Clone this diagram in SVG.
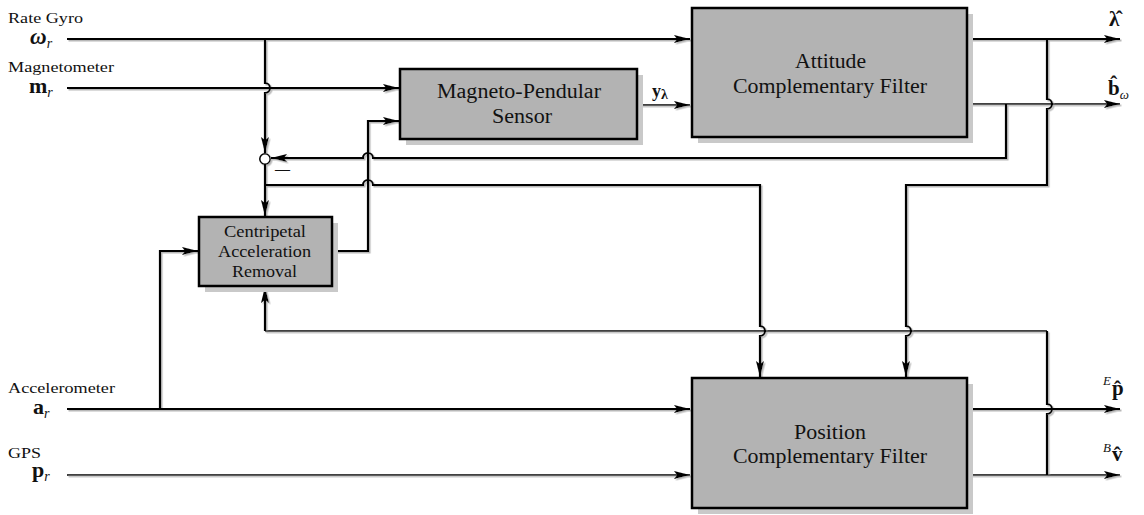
<svg xmlns="http://www.w3.org/2000/svg" width="1144" height="515" viewBox="0 0 1144 515">
  <style>
    .lbl { font-family: "Liberation Serif", "Times New Roman", serif; fill: #111; }
    .blk { fill: #b3b3b3; stroke: #000; stroke-width: 2.5; }
    .shd { fill: #c9c9c9; stroke: none; }
    .w { fill: none; stroke: #000; stroke-width: 2.2; }
    .t { fill: none; stroke: #000; stroke-width: 1.3; }
    .math { font-family: "Liberation Serif", "Times New Roman", serif; font-weight: bold; fill: #111; }
    .it { font-family: "Liberation Serif", "Times New Roman", serif; font-style: italic; font-weight: normal; fill: #111; }
  </style>
  <defs>
    <marker id="arr" viewBox="0 0 16 8" refX="16" refY="4" markerWidth="16" markerHeight="8" markerUnits="userSpaceOnUse" orient="auto">
      <path d="M0,0 L16,4 L0,8 L3,4 Z" fill="#000"/>
    </marker>
    <filter id="ls" x="-5%" y="-5%" width="110%" height="110%">
      <feDropShadow dx="1.5" dy="1.5" stdDeviation="0.2" flood-color="#b8b8b8"/>
    </filter>
  </defs>
  <rect width="1144" height="515" fill="#fff"/>

  <!-- signal lines -->
  <g id="connectors" filter="url(#ls)">
    <!-- sensor inputs -->
    <path class="w" d="M67,39 L690,39" marker-end="url(#arr)"/>
    <path class="w" d="M67,88 L399,88" marker-end="url(#arr)"/>
    <path class="w" d="M67,409 L690,409" marker-end="url(#arr)"/>
    <path class="t" d="M67,475 L690,475" marker-end="url(#arr)"/>
    <!-- gyro branch to summing junction (hops over m_r) -->
    <path class="w" d="M265,39 L265,83 A5,5 0 0 1 265,93 L265,153" marker-end="url(#arr)"/>
    <!-- junction output to centripetal block -->
    <path class="w" d="M265,164 L265,216" marker-end="url(#arr)"/>
    <!-- junction output to position filter -->
    <path class="w" d="M265,185 L363,185 A5,5 0 0 1 373,185 L760,185 L760,326 A5,5 0 0 1 760,336 L760,377" marker-end="url(#arr)"/>
    <!-- accelerometer to centripetal block -->
    <path class="w" d="M160,409 L160,251 L198,251" marker-end="url(#arr)"/>
    <!-- centripetal output to magneto-pendular sensor -->
    <path class="w" d="M332,251 L368,251 L368,121 L399,121" marker-end="url(#arr)"/>
    <!-- y_lambda -->
    <path class="t" d="M637,105 L690,105" marker-end="url(#arr)"/>
    <!-- attitude outputs -->
    <path class="w" d="M967,39 L1120,39" marker-end="url(#arr)"/>
    <path class="t" d="M967,104 L1120,104" marker-end="url(#arr)"/>
    <!-- bias feedback to junction -->
    <path class="w" d="M1006,104 L1006,158 L373,158 A5,5 0 0 0 363,158 L271,158" marker-end="url(#arr)"/>
    <!-- attitude estimate to position filter -->
    <path class="w" d="M1047,39 L1047,99 A5,5 0 0 1 1047,109 L1047,185 L906,185 L906,326 A5,5 0 0 1 906,336 L906,377" marker-end="url(#arr)"/>
    <!-- position outputs -->
    <path class="w" d="M967,409 L1120,409" marker-end="url(#arr)"/>
    <path class="t" d="M967,475 L1120,475" marker-end="url(#arr)"/>
    <!-- velocity feedback to centripetal block -->
    <path class="w" d="M1047,475 L1047,414 A5,5 0 0 0 1047,404 L1047,331"/>
    <path class="t" d="M1047,331 L265,331"/>
    <path class="w" d="M265,331 L265,287" marker-end="url(#arr)"/>
    <!-- summing junction -->
    <circle cx="265" cy="159" r="5.2" fill="#fff" stroke="#000" stroke-width="1.5"/>
  </g>
  <text class="lbl" x="275" y="174" font-size="16" textLength="15" lengthAdjust="spacingAndGlyphs">—</text>

  <!-- blocks -->
  <g id="attitude-filter">
    <rect class="shd" x="698" y="14" width="275" height="129"/>
    <rect class="blk" x="692" y="8" width="275" height="129"/>
    <text class="lbl" x="795" y="68" font-size="20" textLength="71" lengthAdjust="spacingAndGlyphs">Attitude</text>
    <text class="lbl" x="733" y="93" font-size="20" textLength="194" lengthAdjust="spacingAndGlyphs">Complementary Filter</text>
  </g>
  <g id="magneto-pendular">
    <rect class="shd" x="406" y="75" width="237" height="70"/>
    <rect class="blk" x="400" y="69" width="237" height="70"/>
    <text class="lbl" x="437" y="98" font-size="20" textLength="164" lengthAdjust="spacingAndGlyphs">Magneto-Pendular</text>
    <text class="lbl" x="492" y="123" font-size="20" textLength="60" lengthAdjust="spacingAndGlyphs">Sensor</text>
  </g>
  <g id="centripetal">
    <rect class="shd" x="205" y="223" width="133" height="69"/>
    <rect class="blk" x="199" y="217" width="133" height="69"/>
    <text class="lbl" x="224" y="237" font-size="16" textLength="82" lengthAdjust="spacingAndGlyphs">Centripetal</text>
    <text class="lbl" x="218" y="257" font-size="16" textLength="93" lengthAdjust="spacingAndGlyphs">Acceleration</text>
    <text class="lbl" x="232" y="277" font-size="16" textLength="65" lengthAdjust="spacingAndGlyphs">Removal</text>
  </g>
  <g id="position-filter">
    <rect class="shd" x="698" y="384" width="275" height="130"/>
    <rect class="blk" x="692" y="378" width="275" height="130"/>
    <text class="lbl" x="794" y="439" font-size="20" textLength="72" lengthAdjust="spacingAndGlyphs">Position</text>
    <text class="lbl" x="733" y="463" font-size="20" textLength="194" lengthAdjust="spacingAndGlyphs">Complementary Filter</text>
  </g>

  <!-- sensor labels -->
  <g id="inputs">
    <text class="lbl" x="8" y="23" font-size="15" textLength="75" lengthAdjust="spacingAndGlyphs">Rate Gyro</text>
    <text x="30" y="44"><tspan class="math" font-size="23" font-style="italic">ω</tspan><tspan class="it" font-size="14" dy="4">r</tspan></text>
    <text class="lbl" x="8" y="72" font-size="15" textLength="106" lengthAdjust="spacingAndGlyphs">Magnetometer</text>
    <text x="29" y="93"><tspan class="math" font-size="22">m</tspan><tspan class="it" font-size="14" dy="4">r</tspan></text>
    <text class="lbl" x="8" y="393" font-size="15" textLength="107" lengthAdjust="spacingAndGlyphs">Accelerometer</text>
    <text x="33" y="414"><tspan class="math" font-size="22">a</tspan><tspan class="it" font-size="14" dy="4">r</tspan></text>
    <text class="lbl" x="8" y="458" font-size="15" textLength="33" lengthAdjust="spacingAndGlyphs">GPS</text>
    <text x="32" y="477"><tspan class="math" font-size="22">p</tspan><tspan class="it" font-size="14" dy="4">r</tspan></text>
  </g>

  <!-- signal labels -->
  <g id="outputs">
    <text x="652" y="97"><tspan class="math" font-size="18">y</tspan><tspan class="math" font-size="14" dy="2">λ</tspan></text>
    <text class="math" x="1109" y="26" font-size="21">λ̂</text>
    <text x="1108" y="95"><tspan class="math" font-size="21">b̂</tspan><tspan class="it" font-size="13" dy="4">ω</tspan></text>
    <text x="1103" y="385"><tspan class="it" font-size="13">E</tspan><tspan class="math" font-size="21" dx="1" dy="10">p̂</tspan></text>
    <text x="1103" y="452"><tspan class="it" font-size="13">B</tspan><tspan class="math" font-size="21" dx="1" dy="9">v̂</tspan></text>
  </g>
</svg>
